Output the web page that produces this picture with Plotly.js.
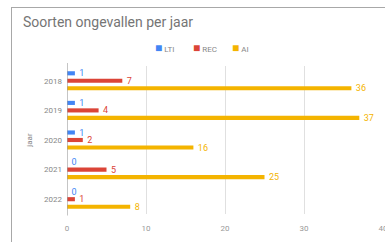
<!DOCTYPE html>
<html>
<head>
<meta charset="utf-8">
<script src="https://cdn.plot.ly/plotly-3.0.1.min.js"></script>
<style>
html,body{margin:0;padding:0;background:#fff;}
#wrap{position:relative;width:385px;height:242px;overflow:hidden;}
#frame{position:absolute;left:11px;top:7px;width:420px;height:300px;border:1px solid #a8a8a8;box-sizing:border-box;}
#chart{position:absolute;left:0;top:0;width:385px;height:242px;}
</style>
</head>
<body>
<div id="wrap"><div id="frame"></div><div id="chart"></div></div>
<script>
const years = ['2018', '2019', '2020', '2021', '2022'];
const seriesNames = ['LTI', 'REC', 'AI'];
const lti = [1, 1, 1, 0, 0];
const rec = [7, 4, 2, 5, 1];
const ai = [36, 37, 16, 25, 8];
const colors = ['#4285F4', '#DB4437', '#F4B400'];
const xTicks = [0, 10, 20, 30, 40];

const values = [lti, rec, ai];
const traces = values.map((v, i) => ({
  type: 'bar',
  orientation: 'h',
  name: seriesNames[i],
  y: years,
  x: v,
  marker: {color: colors[i]},
  text: v.map(String),
  texttemplate: '  %{text}',
  textposition: 'outside',
  constraintext: 'none',
  cliponaxis: false,
  textfont: {family: 'Roboto', size: 9, color: colors[i]},
  showlegend: false,
  hoverinfo: 'none'
}));

// custom compact legend (small squares + labels), placed in paper coords
const W = 385, ML = 67, MR = 2;
const pw = W - ML - MR;
const px2paper = p => (p - ML) / pw;
const legendX = [153, 191, 230];
const annotations = seriesNames.map((n, i) => ({
  xref: 'paper', yref: 'paper', x: px2paper(legendX[i]), y: 1.125,
  xanchor: 'left', yanchor: 'middle', showarrow: false,
  text: '<span style="color:' + colors[i] + ';font-size:12px">■</span> ' + n,
  font: {family: 'Roboto', size: 8, color: '#888'}
}));

const layout = {
  width: 385, height: 242,
  margin: {l: ML, r: MR, t: 66, b: 28},
  paper_bgcolor: 'rgba(0,0,0,0)',
  plot_bgcolor: 'rgba(0,0,0,0)',
  font: {family: 'Roboto', color: '#888'},
  showlegend: false,
  title: {text: 'Soorten ongevallen per jaar', x: 0, xref: 'container', xanchor: 'left',
          y: 1, yref: 'container', yanchor: 'top', pad: {t: 17, l: 23},
          font: {family: 'Roboto', size: 14, color: '#757575'}},
  barmode: 'group',
  bargap: 0.24,
  bargroupgap: 0.45,
  xaxis: {range: [0, 40], tickvals: xTicks, ticktext: xTicks.map(String),
          showgrid: true, gridcolor: '#e0e0e0', gridwidth: 1,
          zeroline: false, showline: false, ticks: '',
          ticklabeloverflow: 'allow',
          tickfont: {size: 8, color: '#999'}, ticklabelstandoff: 8, fixedrange: true},
  yaxis: {type: 'category', autorange: 'reversed', showgrid: false,
          zeroline: false, showline: false, ticks: '',
          tickfont: {size: 8, color: '#888'}, ticklabelstandoff: 4,
          title: {text: 'jaar', font: {size: 8, color: '#888'}, standoff: 10}},
  shapes: [{type: 'line', xref: 'x', yref: 'paper', x0: 0, x1: 0, y0: -0.01, y1: 1.02,
            line: {color: '#9e9e9e', width: 1.2}}],
  annotations: annotations
};

Plotly.newPlot('chart', traces, layout, {displayModeBar: false, staticPlot: true});
</script>
</body>
</html>
